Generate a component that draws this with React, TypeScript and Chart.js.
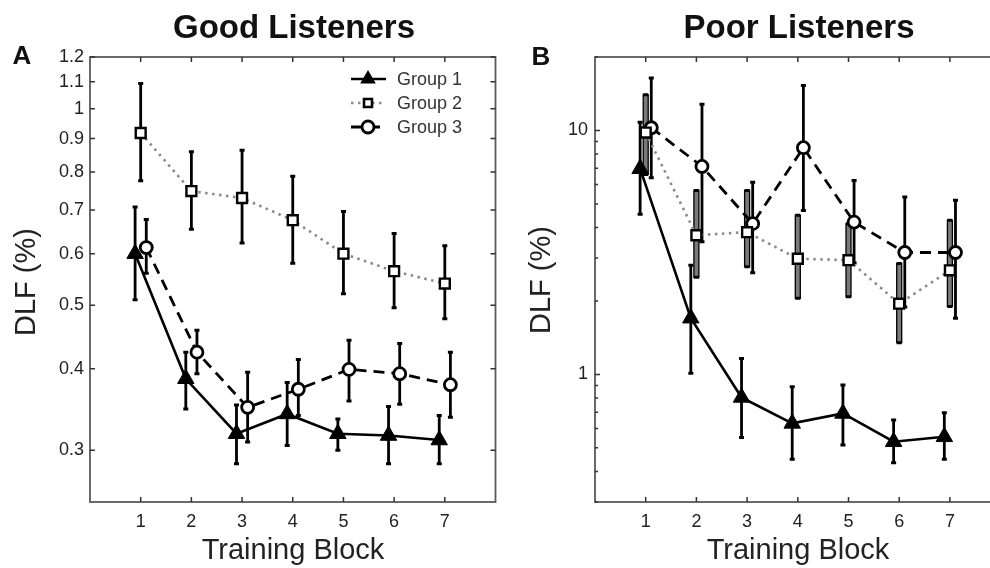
import React, { useEffect, useRef } from 'react';
import { Chart, registerables } from 'chart.js';

Chart.register(...registerables);

// ---------- data ----------
const blocks = [1, 2, 3, 4, 5, 6, 7];
const groupNames = ['Group 1', 'Group 2', 'Group 3'];

// Panel A – Good Listeners, DLF (%)
const goodG1 = [0.6, 0.386, 0.318, 0.341, 0.318, 0.316, 0.311];
const goodG1Low = [0.51, 0.347, 0.286, 0.305, 0.3, 0.286, 0.286];
const goodG1High = [0.707, 0.424, 0.352, 0.381, 0.335, 0.35, 0.339];
const goodG2 = [0.918, 0.748, 0.73, 0.675, 0.6, 0.564, 0.54];
const goodG2Low = [0.776, 0.654, 0.623, 0.58, 0.521, 0.496, 0.477];
const goodG2High = [1.093, 0.859, 0.864, 0.788, 0.696, 0.644, 0.617];
const goodG3 = [0.613, 0.424, 0.349, 0.372, 0.399, 0.393, 0.378];
const goodG3Low = [0.56, 0.393, 0.309, 0.339, 0.357, 0.353, 0.337];
const goodG3High = [0.677, 0.458, 0.395, 0.413, 0.442, 0.437, 0.424];

// Panel B – Poor Listeners, DLF (%)
const poorG1 = [6.97, 1.7, 0.805, 0.63, 0.692, 0.53, 0.555];
const poorG1Low = [4.53, 1.01, 0.552, 0.449, 0.514, 0.435, 0.449];
const poorG1High = [10.8, 2.8, 1.163, 0.89, 0.904, 0.65, 0.697];
const poorG2 = [9.8, 3.72, 3.83, 2.98, 2.94, 1.95, 2.67];
const poorG2Low = [6.6, 2.5, 2.76, 2.05, 2.08, 1.35, 1.9];
const poorG2High = [14.0, 5.68, 5.68, 4.49, 4.15, 2.85, 4.28];
const poorG3 = [10.26, 7.12, 4.15, 8.5, 4.21, 3.16, 3.16];
const poorG3Low = [6.4, 3.5, 2.61, 4.7, 2.86, 1.89, 1.7];
const poorG3High = [16.4, 12.8, 6.14, 15.3, 6.24, 5.33, 5.17];

// tick labels
const goodYTicks = [0.3, 0.4, 0.5, 0.6, 0.7, 0.8, 0.9, 1, 1.1, 1.2];
const poorYTicks = [1, 10];
const poorYMinorTicks = [0.3, 0.4, 0.5, 0.6, 0.7, 0.8, 0.9, 2, 3, 4, 5, 6, 7, 8, 9, 20];

// ---------- styling ----------
const FONT = '"Liberation Sans", Arial, Helvetica, sans-serif';
const groupOffsets = [-0.11, 0, 0.11];

function groupDataset(g: number, values: number[], low: number[], high: number[], grayBars: boolean) {
  const base: any = {
    label: groupNames[g],
    data: blocks.map((b, i) => ({ x: b + groupOffsets[g], y: values[i] })),
    errLow: low,
    errHigh: high,
    grayBars: false,
    fill: false,
    tension: 0,
  };
  if (g === 0) {
    Object.assign(base, {
      borderColor: '#000',
      borderWidth: 2.6,
      pointStyle: 'triangle',
      pointRadius: 9.5,
      pointBackgroundColor: '#000',
      pointBorderColor: '#000',
      pointBorderWidth: 1,
    });
  } else if (g === 1) {
    Object.assign(base, {
      borderColor: '#8a8a8a',
      borderWidth: 2.6,
      borderDash: [2.5, 4.5],
      pointStyle: 'rect',
      pointRadius: 7,
      pointBackgroundColor: '#fff',
      pointBorderColor: '#000',
      pointBorderWidth: 2.4,
      grayBars,
    });
  } else {
    Object.assign(base, {
      borderColor: '#000',
      borderWidth: 2.8,
      borderDash: [11, 7],
      pointStyle: 'circle',
      pointRadius: 6,
      pointBackgroundColor: '#fff',
      pointBorderColor: '#000',
      pointBorderWidth: 2.8,
    });
  }
  return base;
}

function drawMarker(ctx: CanvasRenderingContext2D, g: number, x: number, y: number) {
  ctx.save();
  ctx.setLineDash([]);
  ctx.strokeStyle = '#000';
  if (g === 0) {
    const r = 9;
    ctx.beginPath();
    for (let k = 0; k < 3; k++) {
      const a = (k * 2 * Math.PI) / 3;
      const px = x + Math.sin(a) * r;
      const py = y - Math.cos(a) * r;
      if (k === 0) ctx.moveTo(px, py);
      else ctx.lineTo(px, py);
    }
    ctx.closePath();
    ctx.fillStyle = '#000';
    ctx.fill();
  } else if (g === 1) {
    ctx.lineWidth = 2.6;
    ctx.fillStyle = '#fff';
    ctx.beginPath();
    ctx.rect(x - 4, y - 4, 8, 8);
    ctx.fill();
    ctx.stroke();
  } else {
    ctx.lineWidth = 2.8;
    ctx.fillStyle = '#fff';
    ctx.beginPath();
    ctx.arc(x, y, 6, 0, Math.PI * 2);
    ctx.fill();
    ctx.stroke();
  }
  ctx.restore();
}

const decorPlugin = {
  id: 'decor',
  beforeDatasetsDraw(chart: any) {
    const { ctx } = chart;
    const xs = chart.scales.x;
    const ys = chart.scales.y;
    ctx.save();
    ctx.setLineDash([]);
    chart.data.datasets.forEach((ds: any) => {
      ds.data.forEach((pt: any, j: number) => {
        const x = xs.getPixelForValue(pt.x);
        const yl = ys.getPixelForValue(ds.errLow[j]);
        const yh = ys.getPixelForValue(ds.errHigh[j]);
        if (ds.grayBars) {
          ctx.fillStyle = '#7a7a7a';
          ctx.fillRect(x - 2.5, yh, 5, yl - yh);
          ctx.strokeStyle = '#000';
          ctx.lineWidth = 1.3;
          ctx.strokeRect(x - 2.5, yh, 5, yl - yh);
        } else {
          ctx.strokeStyle = '#000';
          ctx.lineWidth = 2.8;
          ctx.beginPath();
          ctx.moveTo(x, yh);
          ctx.lineTo(x, yl);
          ctx.stroke();
        }
        ctx.strokeStyle = '#000';
        ctx.lineWidth = 3;
        ctx.beginPath();
        ctx.moveTo(x - 2.5, yh);
        ctx.lineTo(x + 2.5, yh);
        ctx.moveTo(x - 2.5, yl);
        ctx.lineTo(x + 2.5, yl);
        ctx.stroke();
      });
    });
    ctx.restore();
  },
  afterDraw(chart: any, _args: any, opts: any) {
    const { ctx, chartArea } = chart;
    const { left, right, top, bottom } = chartArea;
    const xs = chart.scales.x;
    const ys = chart.scales.y;
    ctx.save();
    ctx.setLineDash([]);
    // frame
    ctx.strokeStyle = '#5a5a5a';
    ctx.lineWidth = 1.8;
    ctx.strokeRect(left, top, right - left, bottom - top);
    // inward ticks
    ctx.strokeStyle = '#333';
    ctx.lineWidth = 1.5;
    ctx.beginPath();
    blocks.forEach((b) => {
      const x = xs.getPixelForValue(b);
      ctx.moveTo(x, bottom);
      ctx.lineTo(x, bottom - 5);
      ctx.moveTo(x, top);
      ctx.lineTo(x, top + 5);
    });
    (opts.major || []).forEach((v: number) => {
      const y = ys.getPixelForValue(v);
      ctx.moveTo(left, y);
      ctx.lineTo(left + 5, y);
      ctx.moveTo(right, y);
      ctx.lineTo(right - 5, y);
    });
    (opts.minor || []).forEach((v: number) => {
      const y = ys.getPixelForValue(v);
      ctx.moveTo(left, y);
      ctx.lineTo(left + 3, y);
      ctx.moveTo(right, y);
      ctx.lineTo(right - 3, y);
    });
    ctx.stroke();

    // legend
    if (opts.legend) {
      const rows = [79, 103, 127];
      const x0 = 351;
      const x1 = 386;
      const xm = 368;
      chart.data.datasets.forEach((ds: any, g: number) => {
        const y = rows[g];
        ctx.save();
        ctx.strokeStyle = ds.borderColor;
        ctx.lineWidth = ds.borderWidth;
        ctx.setLineDash(ds.borderDash || []);
        ctx.beginPath();
        ctx.moveTo(x0, y);
        ctx.lineTo(x1, y);
        ctx.stroke();
        ctx.restore();
        drawMarker(ctx, g, xm, y);
        ctx.fillStyle = '#333';
        ctx.font = `18px ${FONT}`;
        ctx.textAlign = 'left';
        ctx.textBaseline = 'middle';
        ctx.fillText(ds.label, 397, y + 1);
      });
    }
    ctx.restore();
  },
};

function makeConfig(kind: 'good' | 'poor'): any {
  const good = kind === 'good';
  const datasets = good
    ? [
        groupDataset(0, goodG1, goodG1Low, goodG1High, false),
        groupDataset(1, goodG2, goodG2Low, goodG2High, false),
        groupDataset(2, goodG3, goodG3Low, goodG3High, false),
      ]
    : [
        groupDataset(0, poorG1, poorG1Low, poorG1High, false),
        groupDataset(1, poorG2, poorG2Low, poorG2High, true),
        groupDataset(2, poorG3, poorG3Low, poorG3High, false),
      ];
  const yTicks = good ? goodYTicks : poorYTicks;
  return {
    type: 'line',
    data: { datasets },
    plugins: [decorPlugin],
    options: {
      responsive: false,
      animation: false,
      devicePixelRatio: 1,
      events: [],
      layout: { autoPadding: false, padding: { top: 57, right: good ? 4.5 : 9.4, bottom: 0, left: 0 } },
      plugins: {
        legend: { display: false },
        tooltip: { enabled: false },
        decor: {
          legend: good,
          major: yTicks,
          minor: good ? [] : poorYMinorTicks,
        },
      },
      scales: {
        x: {
          type: 'linear',
          min: 0,
          max: 8,
          afterBuildTicks: (s: any) => {
            s.ticks = blocks.map((v) => ({ value: v }));
          },
          afterFit: (s: any) => {
            s.height = 66;
            s.paddingLeft = 0;
            s.paddingRight = 0;
          },
          grid: { display: false, drawTicks: false },
          border: { display: false },
          ticks: {
            padding: 9,
            color: '#222',
            font: { family: FONT, size: 18 },
            callback: (v: any) => String(v),
          },
        },
        y: {
          type: 'logarithmic',
          min: good ? 0.25 : 0.3,
          max: good ? 1.2 : 20,
          afterBuildTicks: (s: any) => {
            s.ticks = yTicks.map((v) => ({ value: v }));
          },
          afterFit: (s: any) => {
            s.width = good ? 90 : 95;
            s.paddingTop = 0;
            s.paddingBottom = 0;
          },
          grid: { display: false, drawTicks: false },
          border: { display: false },
          ticks: {
            padding: good ? 6 : 7,
            color: '#222',
            font: { family: FONT, size: 18 },
            callback: (v: any) => String(Number(v)),
          },
        },
      },
    },
  };
}

function ChartPanel({ kind, left, width }: { kind: 'good' | 'poor'; left: number; width: number }) {
  const ref = useRef<HTMLCanvasElement | null>(null);
  useEffect(() => {
    if (!ref.current) return;
    const chart = new Chart(ref.current, makeConfig(kind));
    return () => chart.destroy();
  }, [kind]);
  return (
    <canvas
      ref={ref}
      width={width}
      height={568}
      style={{ position: 'absolute', left, top: 0, width, height: 568 }}
    />
  );
}

function Label({
  text,
  x,
  y,
  size,
  bold,
  rotate,
}: {
  text: string;
  x: number;
  y: number;
  size: number;
  bold?: boolean;
  rotate?: boolean;
}) {
  return (
    <div
      style={{
        position: 'absolute',
        left: x,
        top: y,
        transform: `translate(-50%, -50%)${rotate ? ' rotate(-90deg)' : ''}`,
        fontSize: size,
        fontWeight: bold ? 700 : 400,
        lineHeight: 1,
        whiteSpace: 'nowrap',
        color: bold ? '#111' : '#222',
      }}
    >
      {text}
    </div>
  );
}

export default function App() {
  return (
    <div
      style={{
        position: 'absolute',
        left: 0,
        top: 0,
        width: 990,
        height: 568,
        overflow: 'hidden',
        background: '#fff',
        fontFamily: FONT,
      }}
    >
      <ChartPanel kind="good" left={0} width={500} />
      <ChartPanel kind="poor" left={500} width={510} />
      <Label text="Good Listeners" x={294} y={26} size={33} bold />
      <Label text="Poor Listeners" x={799} y={26} size={33} bold />
      <Label text="A" x={22} y={55} size={26} bold />
      <Label text="B" x={541} y={56} size={26} bold />
      <Label text="DLF (%)" x={25} y={282} size={29} rotate />
      <Label text="DLF (%)" x={540} y={280} size={29} rotate />
      <Label text="Training Block" x={293} y={549} size={29} />
      <Label text="Training Block" x={798} y={549} size={29} />
    </div>
  );
}
